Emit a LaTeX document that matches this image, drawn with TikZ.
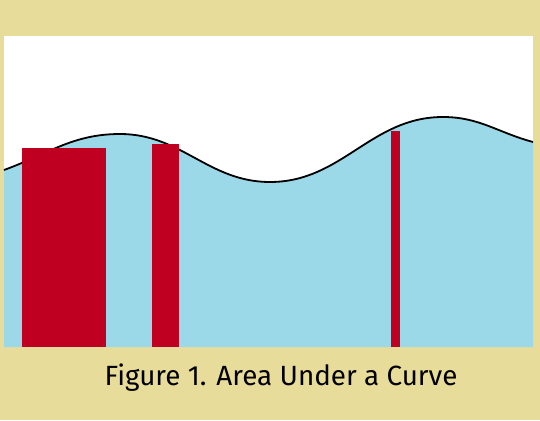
\documentclass[tikz,border=0pt]{standalone}
\usepackage{fontspec}
\setmainfont{Fira Sans}
\usepackage{tikz}
\usetikzlibrary{positioning}
\usepackage{xcolor}
\definecolor{paper}{RGB}{232,220,155}
\definecolor{water}{RGB}{155,217,232}
\definecolor{barred}{RGB}{192,0,32}

\begin{document}
\begin{tikzpicture}[x=1pt, y=-1pt]
            \useasboundingbox[fill=paper] (0,0) rectangle (540,420);
            \fill[white] (4,36) rectangle (533,347);
            % area under the curve
            \fill[water] (4,347) -- (4,170) to[out=20,in=180] (120,134) to[out=0,in=180] (270,182)
                to[out=0,in=180] (443,117) to[out=0,in=165] (533,142) -- (533,347) -- cycle;
            \draw[line width=1.8pt] (4,170) to[out=20,in=180] (120,134) to[out=0,in=180] (270,182)
                to[out=0,in=180] (443,117) to[out=0,in=165] (533,142);
            % bars
            \fill[barred] (22,148) rectangle (106,347);
            \fill[barred] (152,144) rectangle (179,347);
            \fill[barred] (391,131) rectangle (400,347);
            \node[inner sep=0pt] (caption) at (281,378) {\fontsize{27.8}{32}\selectfont Figure 1. Area Under a Curve};
        \end{tikzpicture}
\end{document}
